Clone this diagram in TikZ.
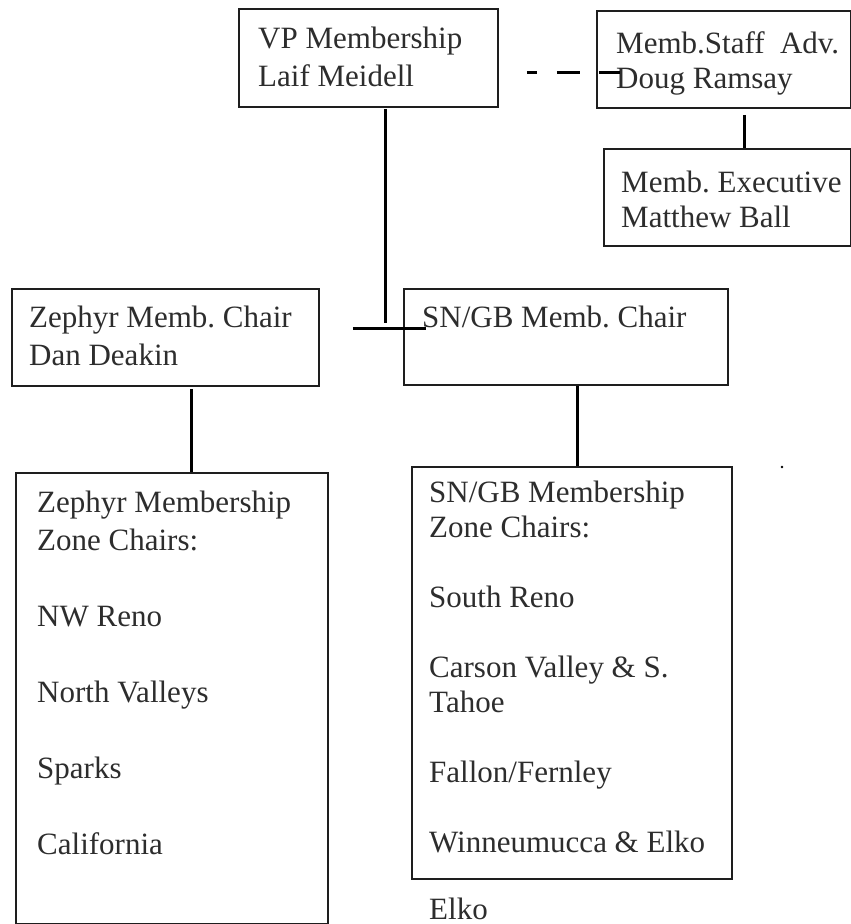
\documentclass[tikz,border=0pt]{standalone}
\usepackage{fontspec}
\setmainfont{Liberation Serif}
\usetikzlibrary{calc}
\definecolor{txtgray}{RGB}{45,45,45}
\definecolor{boxgray}{RGB}{30,30,30}
\frenchspacing
\begin{document}
\begin{tikzpicture}[x=1pt,y=-1pt,
  box/.style={draw=boxgray, line width=1.8pt, rectangle, inner sep=0pt, anchor=north west},
  txtA/.style={inner sep=0pt, anchor=base west, text=txtgray, font=\frenchspacing\fontsize{31}{38}\selectfont},
  txtB/.style={inner sep=0pt, anchor=base west, text=txtgray, font=\frenchspacing\fontsize{31}{35}\selectfont},
  conn/.style={draw=black, line width=3pt}]
\useasboundingbox (0,0) rectangle (851,924);
\fill[white] (0,0) rectangle (851,924);
% boxes
\node[box, minimum width=259pt, minimum height=98pt] (vp) at (238,8) {};
\node[box, minimum width=254pt, minimum height=97pt] (staff) at (596,10) {};
\node[box, minimum width=247pt, minimum height=97pt] (exec) at (603,148) {};
\node[box, minimum width=307pt, minimum height=97pt] (zc) at (11,288) {};
\node[box, minimum width=324pt, minimum height=96pt] (sc) at (403,288) {};
\node[box, minimum width=312pt, minimum height=451pt] (zm) at (15,472) {};
\node[box, minimum width=320pt, minimum height=412pt] (sm) at (411,466) {};
% texts
\node[txtA] (vpt) at (258,48) {\begin{tabular}[t]{@{}l@{}}VP Membership\\Laif Meidell\end{tabular}};
\node[txtB] (stafft) at (616,53) {\begin{tabular}[t]{@{}l@{}}Memb.Staff~ Adv.\\Doug Ramsay\end{tabular}};
\node[txtB] (exect) at (621,192) {\begin{tabular}[t]{@{}l@{}}Memb. Executive\\Matthew Ball\end{tabular}};
\node[txtA] (zct) at (29,327) {\begin{tabular}[t]{@{}l@{}}Zephyr Memb. Chair\\Dan Deakin\end{tabular}};
\node[txtA] (sct) at (422,327) {SN/GB Memb. Chair};
\node[txtA] (zmt) at (37,512) {\begin{tabular}[t]{@{}l@{}}Zephyr Membership\\Zone Chairs:\\ \\NW Reno\\ \\North Valleys\\ \\Sparks\\ \\California\end{tabular}};
\node[txtB] (smt) at (429,502) {\begin{tabular}[t]{@{}l@{}}SN/GB Membership\\Zone Chairs:\\ \\South Reno\\ \\Carson Valley \& S.\\Tahoe\\ \\Fallon/Fernley\\ \\Winneumucca \& Elko\end{tabular}};
\node[txtA] (elko) at (429,919) {Elko};
% connectors
\draw[conn] ($(vp.south west)+(147,1)$) -- ($(sc.north west)+(-18,35)$);
\draw[conn] ($(zc.north east)+(33,40)$) -- ($(sc.north west)+(23,40)$);
\draw[conn, dash pattern=on 10pt off 20pt on 23pt off 19pt on 23pt] ($(vp.north east)+(28,64)$) -- ($(staff.north west)+(24,62)$);
\draw[conn] ($(staff.south west)+(148,6)$) -- ($(exec.north west)+(141,0)$);
\draw[conn] ($(zc.south west)+(180,2)$) -- ($(zm.north west)+(176,0)$);
\draw[conn] ($(sc.south west)+(174,0)$) -- ($(sm.north west)+(166,0)$);
\fill[black] (782,467) circle (1.3);
\end{tikzpicture}
\end{document}
